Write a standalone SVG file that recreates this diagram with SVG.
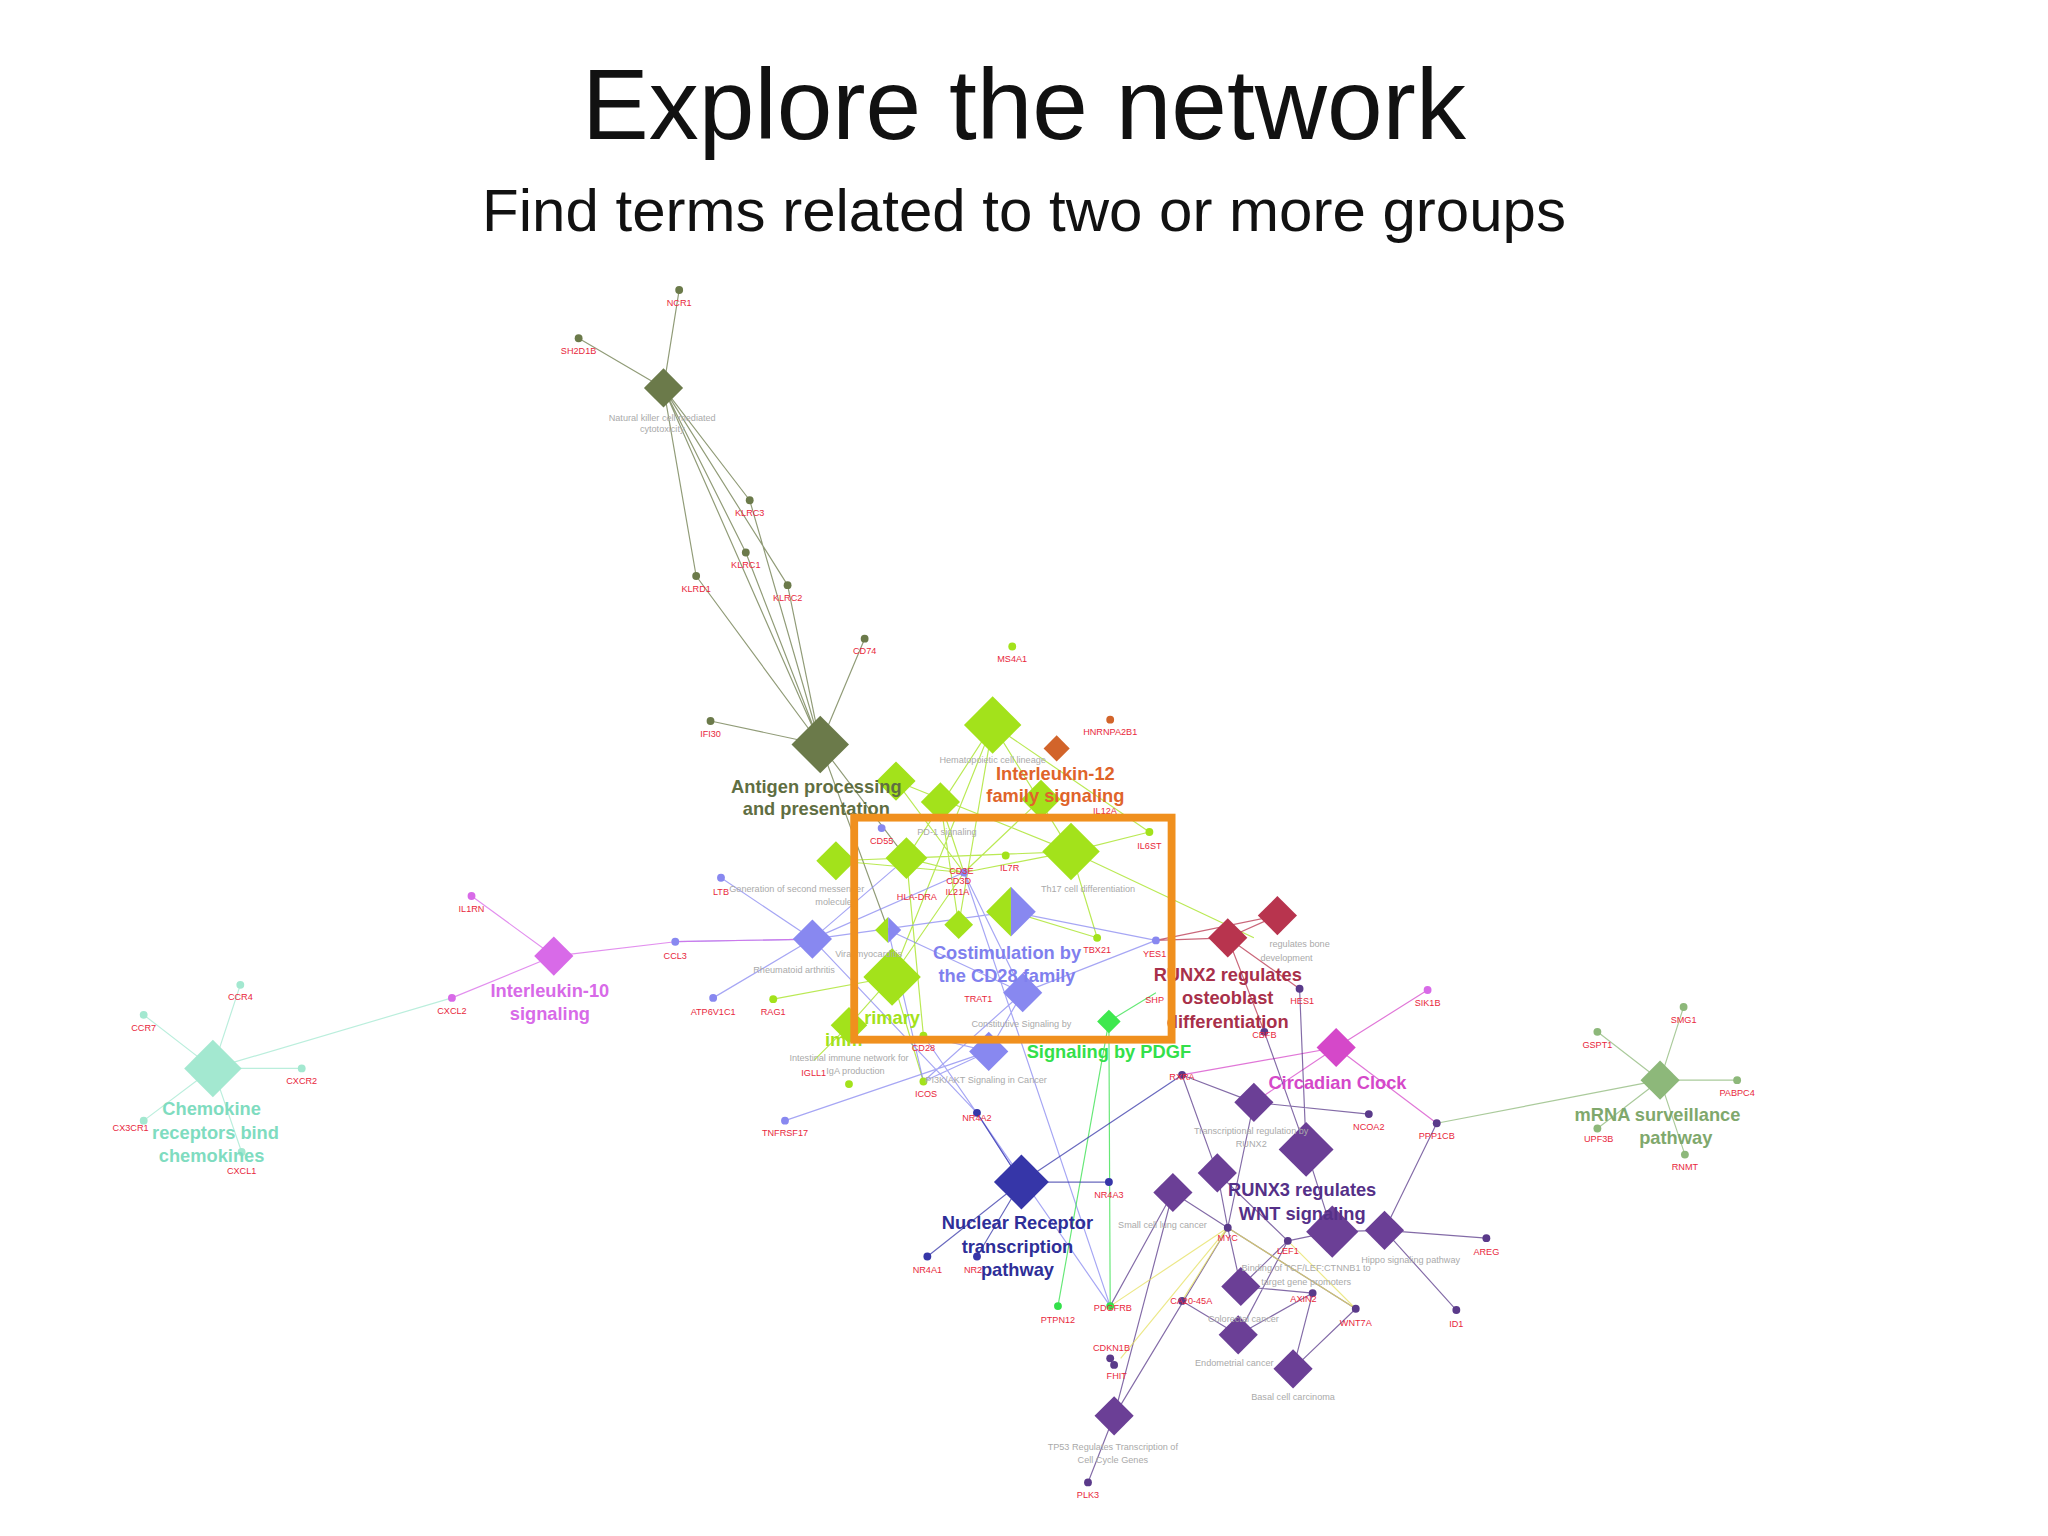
<svg xmlns="http://www.w3.org/2000/svg" width="2048" height="1536" viewBox="0 0 2048 1536">
<style>
text{font-family:"Liberation Sans",Arial,sans-serif}
.t{font-size:100px;fill:#111;text-anchor:middle;font-weight:300}
.st{font-size:60px;fill:#111;text-anchor:middle}
.g{font-size:7px;fill:#aaa;text-anchor:middle}
.r{font-size:7px;fill:#e8283c;text-anchor:middle}
.b{font-size:14px;font-weight:bold;text-anchor:middle}
.e{fill:none;stroke-width:0.9;opacity:0.75}
.ol{stroke:#6b7a4a}.gr{stroke:#a3e21b}.bl{stroke:#8888f0}.pk{stroke:#d86ae8}.tl{stroke:#a3e8d0}.pu{stroke:#5a3a8a}.nv{stroke:#3636a8}.lg{stroke:#33e04a}.mg{stroke:#d548c9}.sg{stroke:#8db87a}.rd{stroke:#b8344e}.ye{stroke:#e6e060}
</style>
<rect width="2048" height="1536" fill="#fff"/>
<text class="t" x="1024" y="139">Explore the network</text>
<text class="st" x="1024" y="231">Find terms related to two or more groups</text>
<g transform="scale(1.30612)">
<g id="connectors">
<path class="e ol" d="M508 297L520 222M508 297L443 259M508 297L574 383M508 297L571 423M508 297L533 441M508 297L603 448M508 297L628 570M574 383L628 570M571 423L628 570M533 441L628 570M603 448L628 570M662 489L628 570M544 552L628 570M628 570L694 657M628 570L680 712"/>
<path class="e gr" d="M760 555L694 657M760 555L820 652M760 555L734 708M760 555L683 748M686 598L738 668M720 614L738 668M797 612L738 668M820 652L738 668M640 659L738 668M694 657L738 668M820 652L880 637M820 652L840 718M774 698L840 718M683 748L738 668M650 785L683 748M592 765L683 748M623 812L650 785M707 828L683 748M707 793L694 657M820 652L960 718M694 657L820 652M640 659L820 652M760 555L880 637M686 598L820 652M720 614L734 708"/>
<path class="e bl" d="M622 719L517 721M622 719L552 672M622 719L546 764M622 719L738 668M622 719L694 657M622 719L774 698M774 698L885 720M783 760L738 668M783 760L707 828M757 805L707 828M757 805L707 793M757 805L783 760M757 805L601 858M680 712L707 828M622 719L748 852M748 852L782 905M738 668L850 1000M707 793L850 1000M783 760L885 720M680 712L783 760"/>
<path class="e pk" d="M424 732L361 686M424 732L517 721M424 732L346 764M517 721L622 719"/>
<path class="e tl" d="M163 818L184 754M163 818L110 777M163 818L231 818M163 818L110 858M163 818L185 882M346 764L163 818"/>
<path class="e rd" d="M940 718L978 701M940 718L885 720M940 718L995 757M978 701L885 720M940 718L968 790"/>
<path class="e lg" d="M849 782L885 760M849 782L810 1000M849 782L850 1000"/>
<path class="e mg" d="M1023 802L1093 758M1023 802L905 823M1023 802L1100 860M1023 802L960 844"/>
<path class="e sg" d="M1271 827L1289 771M1271 827L1223 790M1271 827L1330 827M1271 827L1223 864M1271 827L1290 884M1271 827L1100 860"/>
<path class="e nv" d="M782 905L905 823M782 905L849 905M782 905L710 962M782 905L748 962M782 905L748 852"/>
<path class="e pu" d="M960 844L1048 853M960 844L905 823M960 844L940 940M1000 880L968 790M1000 880L1020 943M932 898L940 940M898 913L853 1084M898 913L850 1000M1020 943L1060 942M1060 942L1138 948M1060 942L1115 1003M1060 942L1100 860M1020 943L986 950M950 985L940 940M950 985L986 950M950 985L1005 990M948 1022L986 950M948 1022L1005 990M990 1048L1005 990M990 1048L1038 1002M853 1084L833 1135M853 1084L940 940M948 1022L905 996M940 940L1038 1002M995 757L1000 880M905 823L932 898M898 913L940 940M932 898L986 950"/>
<path class="e ye" d="M940 940L850 1000M940 940L905 996M940 940L1038 1002M940 940L858 1040M986 950L1038 1002"/>
</g>
<g id="dots">
<g fill="#6b7a4a"><circle cx="520" cy="222" r="3"/><circle cx="443" cy="259" r="3"/><circle cx="574" cy="383" r="3"/><circle cx="571" cy="423" r="3"/><circle cx="533" cy="441" r="3"/><circle cx="603" cy="448" r="3"/><circle cx="662" cy="489" r="3"/><circle cx="544" cy="552" r="3"/></g>
<g fill="#a3e21b"><circle cx="775" cy="495" r="3"/><circle cx="770" cy="655" r="3"/><circle cx="840" cy="718" r="3"/><circle cx="592" cy="765" r="3"/><circle cx="650" cy="830" r="3"/><circle cx="707" cy="793" r="3"/><circle cx="707" cy="828" r="3"/><circle cx="880" cy="637" r="3"/></g>
<g fill="#8888f0"><circle cx="552" cy="672" r="3"/><circle cx="546" cy="764" r="3"/><circle cx="517" cy="721" r="3"/><circle cx="601" cy="858" r="3"/><circle cx="738" cy="668" r="3"/><circle cx="885" cy="720" r="3"/><circle cx="675" cy="634" r="3"/></g>
<g fill="#d86ae8"><circle cx="361" cy="686" r="3"/><circle cx="346" cy="764" r="3"/><circle cx="1093" cy="758" r="3"/></g>
<g fill="#a3e8d0"><circle cx="184" cy="754" r="3"/><circle cx="110" cy="777" r="3"/><circle cx="231" cy="818" r="3"/><circle cx="110" cy="858" r="3"/><circle cx="185" cy="882" r="3"/></g>
<g fill="#8db87a"><circle cx="1289" cy="771" r="3"/><circle cx="1223" cy="790" r="3"/><circle cx="1330" cy="827" r="3"/><circle cx="1223" cy="864" r="3"/><circle cx="1290" cy="884" r="3"/></g>
<g fill="#3636a8"><circle cx="748" cy="852" r="3"/><circle cx="849" cy="905" r="3"/><circle cx="710" cy="962" r="3"/><circle cx="748" cy="962" r="3"/></g>
<g fill="#5a3a8a"><circle cx="905" cy="823" r="3"/><circle cx="995" cy="757" r="3"/><circle cx="968" cy="790" r="3"/><circle cx="1048" cy="853" r="3"/><circle cx="1100" cy="860" r="3"/><circle cx="1138" cy="948" r="3"/><circle cx="1115" cy="1003" r="3"/><circle cx="986" cy="950" r="3"/><circle cx="1005" cy="990" r="3"/><circle cx="1038" cy="1002" r="3"/><circle cx="940" cy="940" r="3"/><circle cx="905" cy="996" r="3"/><circle cx="850" cy="1040" r="3"/><circle cx="853" cy="1045" r="3"/><circle cx="833" cy="1135" r="3"/></g>
<circle cx="850" cy="551" r="3" fill="#d2642a"/>
<circle cx="810" cy="1000" r="3" fill="#33e04a"/><circle cx="850" cy="1000" r="3" fill="#33e04a"/>
</g>
<g id="nodes">
<path id="nk" d="M508 282L523 297L508 312L493 297Z" fill="#6b7a4a"/>
<path id="antigen" d="M628 548L650 570L628 592L606 570Z" fill="#6b7a4a"/>
<g fill="#a3e21b">
<path d="M760 533L782 555L760 577L738 555Z"/>
<path d="M686 583L701 598L686 613L671 598Z"/>
<path d="M720 599L735 614L720 629L705 614Z"/>
<path d="M797 597L812 612L797 627L782 612Z"/>
<path d="M640 644L655 659L640 674L625 659Z"/>
<path d="M694 641L710 657L694 673L678 657Z"/>
<path d="M820 630L842 652L820 674L798 652Z"/>
<path d="M734 697L745 708L734 719L723 708Z"/>
<path d="M683 726L705 748L683 770L661 748Z"/>
<path d="M650 771L664 785L650 799L636 785Z"/>
<path d="M774 679L774 717L755 698Z"/>
<path d="M680 702L680 722L670 712Z"/>
</g>
<g fill="#8888f0">
<path d="M774 679L793 698L774 717Z"/>
<path d="M680 702L690 712L680 722Z"/>
<path d="M622 704L637 719L622 734L607 719Z"/>
<path d="M783 745L798 760L783 775L768 760Z"/>
<path d="M757 790L772 805L757 820L742 805Z"/>
</g>
<path d="M809 563L819 573L809 583L799 573Z" fill="#d2642a"/>
<path d="M849 773L858 782L849 791L840 782Z" fill="#3ee84e"/>
<path id="il10" d="M424 717L439 732L424 747L409 732Z" fill="#d86ae8"/>
<path id="chemokine" d="M163 796L185 818L163 840L141 818Z" fill="#a3e8d0"/>
<path d="M940 703L955 718L940 733L925 718Z" fill="#b8344e"/>
<path d="M978 686L993 701L978 716L963 701Z" fill="#b8344e"/>
<path id="circadian" d="M1023 787L1038 802L1023 817L1008 802Z" fill="#d548c9"/>
<path id="mrna" d="M1271 812L1286 827L1271 842L1256 827Z" fill="#8db87a"/>
<path id="nuclear" d="M782 884L803 905L782 926L761 905Z" fill="#3636a8"/>
<g fill="#6b3f96">
<path d="M960 829L975 844L960 859L945 844Z"/>
<path d="M1000 859L1021 880L1000 901L979 880Z"/>
<path d="M932 883L947 898L932 913L917 898Z"/>
<path d="M898 898L913 913L898 928L883 913Z"/>
<path d="M1020 923L1040 943L1020 963L1000 943Z"/>
<path d="M1060 927L1075 942L1060 957L1045 942Z"/>
<path d="M950 970L965 985L950 1000L935 985Z"/>
<path d="M948 1007L963 1022L948 1037L933 1022Z"/>
<path d="M990 1033L1005 1048L990 1063L975 1048Z"/>
<path d="M853 1069L868 1084L853 1099L838 1084Z"/>
</g>
</g>
<g id="labels">
<text class="r" x="520" y="234">NCR1</text><text class="r" x="443" y="271">SH2D1B</text>
<text class="g" x="507" y="322">Natural killer cell mediated</text><text class="g" x="507" y="331">cytotoxicity</text>
<text class="r" x="574" y="395">KLRC3</text><text class="r" x="571" y="435">KLRC1</text><text class="r" x="533" y="453">KLRD1</text><text class="r" x="603" y="460">KLRC2</text>
<text class="r" x="662" y="501">CD74</text><text class="r" x="544" y="564">IFI30</text><text class="r" x="775" y="507">MS4A1</text><text class="r" x="850" y="563">HNRNPA2B1</text>
<text class="b" x="625" y="607" fill="#5f6e42">Antigen processing</text><text class="b" x="625" y="624" fill="#5f6e42">and presentation</text>
<text class="g" x="760" y="584">Hematopoietic cell lineage</text>
<text class="b" x="808" y="597" fill="#e0642a">Interleukin-12</text><text class="b" x="808" y="614" fill="#e0642a">family signaling</text>
<text class="r" x="846" y="623">IL12A</text>
<text class="g" x="725" y="639">PD-1 signaling</text>
<text class="r" x="675" y="646">CD55</text><text class="r" x="880" y="650">IL6ST</text>
<text class="r" x="736" y="669">CD3E</text><text class="r" x="734" y="677">CD3D</text><text class="r" x="773" y="667">IL7R</text><text class="r" x="702" y="689">HLA-DRA</text><text class="r" x="733" y="685">IL21A</text>
<text class="g" x="610" y="683">Generation of second messenger</text><text class="g" x="640" y="693">molecules</text>
<text class="g" x="833" y="683">Th17 cell differentiation</text>
<text class="r" x="552" y="685">LTB</text>
<text class="b" x="771" y="734" fill="#8080ee">Costimulation by</text><text class="b" x="771" y="752" fill="#8080ee">the CD28 family</text>
<text class="g" x="608" y="745">Rheumatoid arthritis</text><text class="g" x="665" y="733">Viral myocarditis</text>
<text class="r" x="840" y="730">TBX21</text><text class="r" x="884" y="733">YES1</text><text class="r" x="884" y="768">SHP</text>
<text class="r" x="517" y="734">CCL3</text><text class="r" x="361" y="698">IL1RN</text><text class="r" x="346" y="776">CXCL2</text>
<text class="b" x="421" y="763" fill="#d86ae8">Interleukin-10</text><text class="b" x="421" y="781" fill="#d86ae8">signaling</text>
<text class="r" x="546" y="777">ATP6V1C1</text><text class="r" x="592" y="777">RAG1</text><text class="r" x="749" y="767">TRAT1</text>
<text class="b" x="683" y="784" fill="#a3e21b">rimary</text><text class="b" x="646" y="801" fill="#a3e21b">imm</text>
<text class="g" x="782" y="786">Constitutive Signaling by</text>
<text class="b" x="849" y="810" fill="#33e04a">Signaling by PDGF</text>
<text class="r" x="707" y="805">CD28</text>
<text class="g" x="650" y="812">Intestinal immune network for</text><text class="g" x="655" y="822">IgA production</text>
<text class="r" x="623" y="824">IGLL1</text>
<text class="g" x="755" y="829">PI3K/AKT Signaling in Cancer</text>
<text class="r" x="709" y="840">ICOS</text><text class="r" x="601" y="870">TNFRSF17</text><text class="r" x="748" y="858">NR4A2</text>
<text class="b" x="162" y="854" fill="#7fdcc0">Chemokine</text><text class="b" x="165" y="872" fill="#7fdcc0">receptors bind</text><text class="b" x="162" y="890" fill="#7fdcc0">chemokines</text>
<text class="r" x="184" y="766">CCR4</text><text class="r" x="110" y="789">CCR7</text><text class="r" x="231" y="830">CXCR2</text><text class="r" x="100" y="866">CX3CR1</text><text class="r" x="185" y="899">CXCL1</text>
<text class="g" x="995" y="725">regulates bone</text><text class="g" x="985" y="736">development</text>
<text class="b" x="940" y="751" fill="#a8304a">RUNX2 regulates</text><text class="b" x="940" y="769" fill="#a8304a">osteoblast</text><text class="b" x="940" y="787" fill="#a8304a">differentiation</text>
<text class="r" x="997" y="769">HES1</text><text class="r" x="968" y="795">CBFB</text><text class="r" x="1093" y="770">SIK1B</text><text class="r" x="905" y="827">RXRA</text>
<text class="b" x="1024" y="834" fill="#d548c9">Circadian Clock</text>
<text class="r" x="1048" y="865">NCOA2</text><text class="r" x="1100" y="872">PPP1CB</text>
<text class="r" x="1289" y="783">SMG1</text><text class="r" x="1223" y="802">GSPT1</text><text class="r" x="1330" y="839">PABPC4</text><text class="r" x="1224" y="874">UPF3B</text><text class="r" x="1290" y="896">RNMT</text>
<text class="b" x="1269" y="858" fill="#7fa86c">mRNA surveillance</text><text class="b" x="1283" y="876" fill="#7fa86c">pathway</text>
<text class="g" x="958" y="868">Transcriptional regulation by</text><text class="g" x="958" y="878">RUNX2</text>
<text class="r" x="849" y="917">NR4A3</text>
<text class="b" x="779" y="941" fill="#2e2e98">Nuclear Receptor</text><text class="b" x="779" y="959" fill="#2e2e98">transcription</text><text class="b" x="779" y="977" fill="#2e2e98">pathway</text>
<text class="r" x="710" y="975">NR4A1</text><text class="r" x="745" y="975">NR2</text>
<text class="b" x="997" y="916" fill="#553088">RUNX3 regulates</text><text class="b" x="997" y="934" fill="#553088">WNT signaling</text>
<text class="g" x="890" y="940">Small cell lung cancer</text><text class="g" x="1080" y="967">Hippo signaling pathway</text>
<text class="r" x="940" y="950">MYC</text><text class="r" x="986" y="960">LEF1</text>
<text class="g" x="1000" y="973">Binding of TCF/LEF:CTNNB1 to</text><text class="g" x="1000" y="984">target gene promoters</text>
<text class="r" x="1138" y="961">AREG</text><text class="r" x="1115" y="1016">ID1</text>
<text class="r" x="912" y="998">CA20-45A</text><text class="r" x="998" y="997">AXIN2</text><text class="r" x="1038" y="1015">WNT7A</text>
<text class="r" x="810" y="1013">PTPN12</text><text class="r" x="852" y="1004">PDGFRB</text>
<text class="g" x="952" y="1012">Colorectal cancer</text><text class="g" x="945" y="1046">Endometrial cancer</text><text class="g" x="990" y="1072">Basal cell carcinoma</text>
<text class="r" x="851" y="1034">CDKN1B</text><text class="r" x="855" y="1056">FHIT</text>
<text class="g" x="852" y="1110">TP53 Regulates Transcription of</text><text class="g" x="852" y="1120">Cell Cycle Genes</text>
<text class="r" x="833" y="1147">PLK3</text>
</g>
<rect x="654" y="626" width="243" height="170" fill="none" stroke="#f0901e" stroke-width="6"/>
</g>
</svg>
